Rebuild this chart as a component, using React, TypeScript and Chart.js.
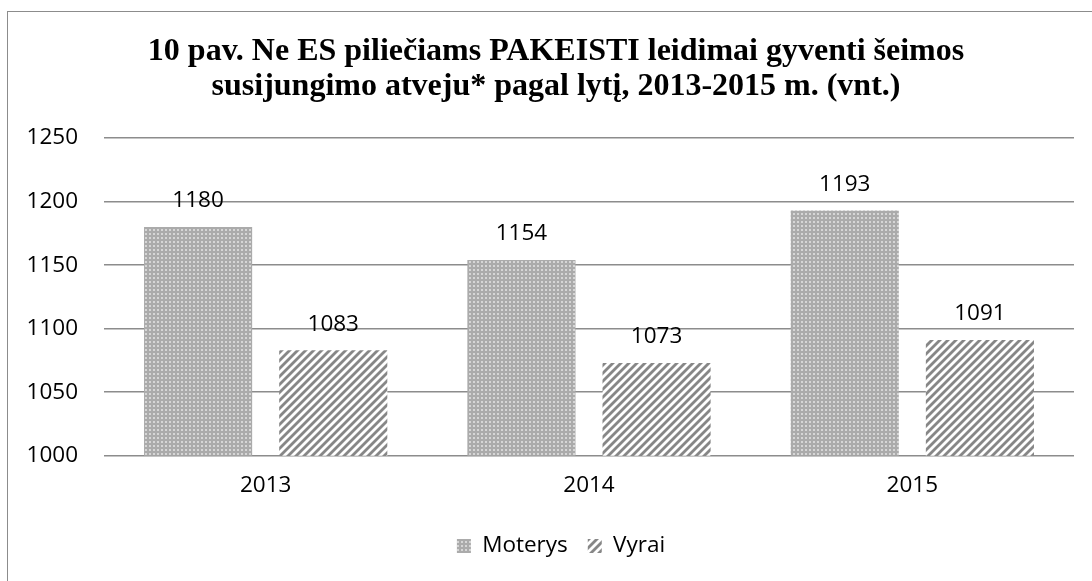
import React, { useEffect, useRef } from "react";
import { Chart, registerables } from "chart.js";

Chart.register(...registerables);

const categories = ["2013", "2014", "2015"];
const seriesNames = ["Moterys", "Vyrai"];
const moterys = [1180, 1154, 1193];
const vyrai = [1083, 1073, 1091];
const titleLines = [
  "10 pav. Ne ES piliečiams PAKEISTI leidimai gyventi šeimos",
  "susijungimo atveju* pagal lytį, 2013-2015 m. (vnt.)",
];
const yMin = 1000;
const yMax = 1250;
const yStep = 50;

const SANS = "'Open Sans', 'Noto Sans', sans-serif";
const SERIF = "'Liberation Serif', 'Times New Roman', serif";

function makeDotPattern(ctx: CanvasRenderingContext2D) {
  const c = document.createElement("canvas");
  c.width = 4;
  c.height = 4;
  const g = c.getContext("2d")!;
  g.fillStyle = "#ababab";
  g.fillRect(0, 0, 4, 4);
  g.fillStyle = "#d6d6d6";
  g.fillRect(1, 1, 2, 2);
  return ctx.createPattern(c, "repeat")!;
}

function makeStripePattern(ctx: CanvasRenderingContext2D) {
  const s = 8;
  const c = document.createElement("canvas");
  c.width = s;
  c.height = s;
  const g = c.getContext("2d")!;
  g.fillStyle = "#ffffff";
  g.fillRect(0, 0, s, s);
  g.strokeStyle = "#878787";
  g.lineWidth = 2.8;
  for (const k of [-s, 0, s]) {
    g.beginPath();
    g.moveTo(k - 2, s + 2);
    g.lineTo(k + s + 2, -2);
    g.stroke();
  }
  return ctx.createPattern(c, "repeat")!;
}

const dataLabels = {
  id: "dataLabels",
  afterDatasetsDraw(chart: any) {
    const ctx = chart.ctx;
    ctx.save();
    ctx.font = `22.5px ${SANS}`;
    ctx.fillStyle = "#000";
    ctx.textAlign = "center";
    ctx.textBaseline = "middle";
    chart.data.datasets.forEach((ds: any, i: number) => {
      const meta = chart.getDatasetMeta(i);
      meta.data.forEach((el: any, j: number) => {
        ctx.fillText(String(ds.data[j]), el.x, el.y - 26);
      });
    });
    ctx.restore();
  },
};

// centre the title and legend over the frame rather than over the canvas
const boxShift = {
  id: "boxShift",
  afterLayout(chart: any) {
    if (chart.titleBlock) chart.titleBlock.left += 38;
    if (chart.legend) chart.legend.left += 48;
  },
};

export default function App() {
  const ref = useRef<HTMLCanvasElement>(null);
  useEffect(() => {
    const canvas = ref.current!;
    const ctx = canvas.getContext("2d")!;
    const chart = new Chart(canvas, {
      type: "bar",
      data: {
        labels: categories,
        datasets: [
          {
            label: seriesNames[0],
            data: moterys,
            backgroundColor: makeDotPattern(ctx) as any,
            borderWidth: 0,
            categoryPercentage: 0.836,
            barPercentage: 0.8,
          },
          {
            label: seriesNames[1],
            data: vyrai,
            backgroundColor: makeStripePattern(ctx) as any,
            borderWidth: 0,
            categoryPercentage: 0.836,
            barPercentage: 0.8,
          },
        ],
      },
      options: {
        responsive: false,
        animation: false,
        layout: { padding: { top: 0, left: 0, right: 18, bottom: 13.75 } },
        plugins: {
          tooltip: { enabled: false },
          title: {
            display: true,
            text: titleLines,
            color: "#000",
            font: { family: SERIF, size: 32, weight: "bold", lineHeight: "35px" as any },
            padding: { top: 34, bottom: 34 },
          },
          legend: {
            display: true,
            position: "bottom",
            labels: {
              color: "#000",
              font: { family: SANS, size: 22.5 },
              boxWidth: 14,
              boxHeight: 14,
              padding: 20,
            },
          },
        },
        scales: {
          x: {
            grid: { display: false },
            border: { display: false },
            ticks: { color: "#000", font: { family: SANS, size: 22.5 }, padding: 8.5 },
            afterFit(scale: any) {
              scale.height = 59;
            },
          },
          y: {
            min: yMin,
            max: yMax,
            grid: { color: "#8c8c8c", lineWidth: 1.5, drawTicks: false },
            border: { display: false },
            ticks: {
              stepSize: yStep,
              color: "#000",
              font: { family: SANS, size: 22.5 },
              padding: 26,
              callback: (v: any) => String(v),
            },
            afterFit(scale: any) {
              scale.width = 104;
            },
          },
        },
      },
      plugins: [dataLabels, boxShift],
    });
    return () => chart.destroy();
  }, []);

  return (
    <>
      <div
        style={{
          position: "fixed",
          left: 0,
          top: 0,
          width: 1092,
          height: 581,
          background: "#fff",
        }}
      >
        <canvas ref={ref} width={1092} height={581} style={{ width: 1092, height: 581, display: "block" }} />
      </div>
      <div
        style={{
          position: "fixed",
          left: 7,
          top: 11,
          width: 1085,
          height: 570,
          borderLeft: "1.5px solid #8c8c8c",
          borderTop: "1.5px solid #8c8c8c",
          pointerEvents: "none",
        }}
      />
    </>
  );
}
